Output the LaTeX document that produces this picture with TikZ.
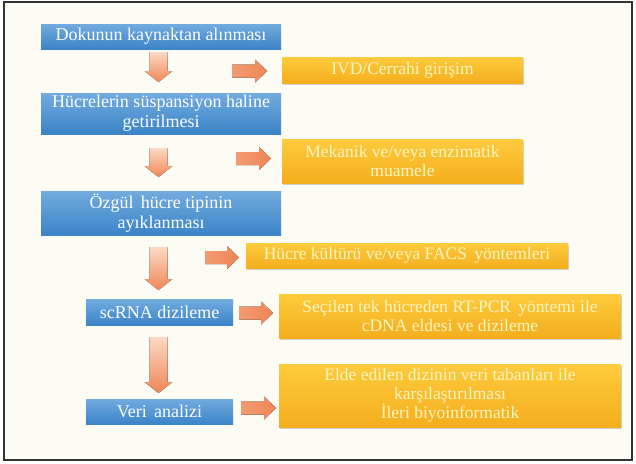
\documentclass[tikz,border=0pt]{standalone}
\usepackage{fontspec}
\setmainfont{Liberation Serif}
\usetikzlibrary{shadows}
\definecolor{bgcream}{HTML}{FCFBF4}
\definecolor{frame}{HTML}{333333}
\definecolor{bluetop}{HTML}{72ABDE}
\definecolor{bluebot}{HTML}{3B84C8}
\definecolor{goldtop}{HTML}{FDCB3C}
\definecolor{goldbot}{HTML}{F4AE1E}
\definecolor{goldtext}{HTML}{FFF6C2}
\definecolor{arrlight}{HTML}{FCD9C4}
\definecolor{arrdark}{HTML}{EF8656}
\tikzset{
  bluebox/.style={rectangle, inner sep=0pt, top color=bluetop, bottom color=bluebot,
    text=white, align=center, font=\fontsize{18}{20}\selectfont},
  goldbox/.style={rectangle, inner sep=0pt, top color=goldtop, bottom color=goldbot,
    text=goldtext, align=center, font=\fontsize{17.5}{19}\selectfont,
    drop shadow={shadow xshift=1pt, shadow yshift=-1.5pt, opacity=0.35}},
  downfill/.style={top color=arrlight, bottom color=arrdark},
  rightfill/.style={left color=arrdark!75!arrlight, right color=arrdark},
}
% down arrow: x, ytop, ybottom
\newcommand\mydarrow[3]{%
  \fill[downfill] ({#1-9},{#2}) -- ({#1+9},{#2}) -- ({#1+9},{#3-11}) -- ({#1+14},{#3-11})
    -- ({#1},{#3}) -- ({#1-14},{#3-11}) -- ({#1-9},{#3-11}) -- cycle;}
% right arrow: xleft, xright, ycenter
\newcommand\myrarrow[3]{%
  \fill[rightfill] ({#1},{#3-6.5}) -- ({#2-12},{#3-6.5}) -- ({#2-12},{#3-11.5}) -- ({#2},{#3})
    -- ({#2-12},{#3+11.5}) -- ({#2-12},{#3+6.5}) -- ({#1},{#3+6.5}) -- cycle;}
\begin{document}
\begin{tikzpicture}[x=1pt,y=-1pt]
\useasboundingbox (0,0) rectangle (636,463);
\fill[white] (0,0) rectangle (636,463);
\draw[frame, line width=1.2pt, fill=bgcream] (4,2) rectangle (632,460);

% blue boxes
\node[bluebox, minimum width=240pt, minimum height=25pt] (b1) at (161,36.5) {Dokunun kaynaktan alınması};
\node[bluebox, minimum width=240pt, minimum height=41pt] (b2) at (161,113.5) {Hücrelerin süspansiyon haline\\getirilmesi};
\node[bluebox, minimum width=240pt, minimum height=44pt] (b3) at (161,213) {Özgül\, hücre tipinin\\ayıklanması};
\node[bluebox, minimum width=147pt, minimum height=26pt] (b4) at (159.5,312) {scRNA dizileme};
\node[bluebox, minimum width=147pt, minimum height=25pt] (b5) at (159.5,411.5) {Veri\, analizi};

% gold boxes
\node[goldbox, minimum width=241pt, minimum height=26pt] (g1) at (402.5,70) {IVD/Cerrahi girişim};
\node[goldbox, minimum width=241pt, minimum height=44pt] (g2) at (402.5,161) {Mekanik ve/veya enzimatik\\muamele};
\node[goldbox, minimum width=322pt, minimum height=25pt] (g3) at (407,255.5) {Hücre kültürü ve/veya FACS\, yöntemleri};
\node[goldbox, minimum width=342pt, minimum height=44pt] (g4) at (450,316) {Seçilen tek hücreden RT-PCR\, yöntemi ile\\cDNA eldesi ve dizileme};
\node[goldbox, minimum width=342pt, minimum height=63pt] (g5) at (450,395.5) {Elde edilen dizinin veri tabanları ile\\karşılaştırılması\\İleri biyoinformatik};

% down arrows
\mydarrow{158.5}{52}{82}
\mydarrow{158.5}{148}{177}
\mydarrow{158.5}{247}{290}
\mydarrow{158.5}{337}{393}

% right arrows
\myrarrow{232}{267}{71}
\myrarrow{236}{271}{158.5}
\myrarrow{205}{239}{257.5}
\myrarrow{239}{273}{313}
\myrarrow{241}{276}{408}
\end{tikzpicture}
\end{document}
